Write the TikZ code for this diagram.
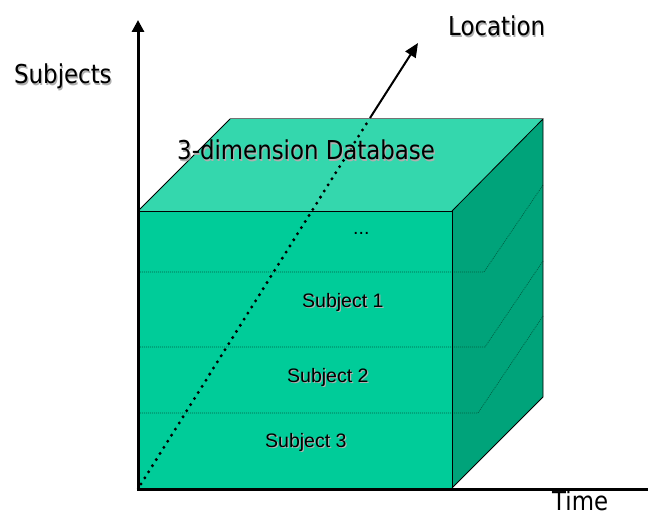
\documentclass[tikz,border=0pt]{standalone}
\usepackage{fontspec}
\usetikzlibrary{arrows.meta}
\setmainfont{Liberation Sans}
\newfontfamily\labelfont[FakeStretch=0.88]{DejaVu Sans}
\definecolor{frontface}{RGB}{0,204,153}
\definecolor{topface}{RGB}{52,215,173}
\definecolor{sideface}{RGB}{0,163,122}
\definecolor{layerline}{RGB}{0,95,68}
\definecolor{textshade}{RGB}{175,175,175}
% text with a soft grey drop shadow
\newcommand\shadowtext[1]{\rlap{\hspace{1.2pt}\raisebox{-1.2pt}{\color{textshade}#1}}#1}
\tikzset{
  axisline/.style={line width=3pt},
  edgeline/.style={line width=0.8pt, black},
  layersep/.style={line width=0.7pt, layerline, dash pattern=on 1pt off 1pt},
  bigtext/.style={anchor=base west, inner sep=0pt, font=\labelfont\fontsize{26}{30}\selectfont},
  layertext/.style={anchor=base west, inner sep=0pt, font=\fontsize{19.5}{23}\selectfont},
}
\begin{document}
\begin{tikzpicture}[x=1pt,y=-1pt]
\useasboundingbox (0,0) rectangle (648,513);
% cube corners
\coordinate (FTL) at (138,211);
\coordinate (FTR) at (452,211);
\coordinate (FBR) at (452,488);
\coordinate (FBL) at (138,488);
\coordinate (BTL) at (230,119);
\coordinate (BTR) at (543,119);
\coordinate (BBR) at (543,397);
% faces
\fill[frontface] (FTL) -- (FTR) -- (FBR) -- (FBL) -- cycle;
\fill[topface] (FTL) -- (BTL) -- (BTR) -- (FTR) -- cycle;
\fill[sideface] (FTR) -- (BTR) -- (BBR) -- (FBR) -- cycle;
% layer separators
\coordinate (L1a) at (138,272); \coordinate (L1b) at (484,272); \coordinate (L1c) at (543,185);
\coordinate (L2a) at (138,347); \coordinate (L2b) at (485,347); \coordinate (L2c) at (543,261);
\coordinate (L3a) at (138,413); \coordinate (L3b) at (478,413); \coordinate (L3c) at (543,316);
\draw[layersep] (L1a) -- (L1b) -- (L1c);
\draw[layersep] (L2a) -- (L2b) -- (L2c);
\draw[layersep] (L3a) -- (L3b) -- (L3c);
% cube edges
\draw[edgeline] (FTL) -- (FTR) -- (FBR);
\draw[edgeline] (FTR) -- (BTR) -- (BBR) -- (FBR);
\draw[edgeline] (FTL) -- (BTL);
\draw[line width=1pt, black!55] (BTL) -- (BTR);
% location axis: dotted inside the cube, solid above it
\coordinate (LocStart) at (141,484);
\coordinate (LocExit) at (370,118);
\coordinate (LocTip) at (418,43);
\draw[line width=3.3pt, line cap=round, dash pattern=on 0pt off 7.2pt] (LocStart) -- (LocExit);
\draw[line width=2pt, -{Triangle[width=12pt,length=14pt]}] (LocExit) -- (LocTip);
% subject and time axes
\coordinate (O) at (138,489);
\coordinate (SubjTip) at (138,20);
\coordinate (TimeEnd) at (648,489);
\draw[axisline, -{Triangle[width=12pt,length=12pt]}] (O) -- (SubjTip);
\draw[axisline] (136.5,489) -- (TimeEnd);
% labels
\node[bigtext] (subjects) at (14,84) {\shadowtext{Subjects}};
\node[bigtext] (location) at (448,36) {\shadowtext{Location}};
\node[bigtext] (time) at (552,510) {Time};
\node[bigtext] (dbname) at (177,160) {\shadowtext{3-dimension Database}};
\node[layertext] (more) at (353,235) {...};
\node[layertext] (subj1) at (302,307) {\shadowtext{Subject 1}};
\node[layertext] (subj2) at (287,382) {\shadowtext{Subject 2}};
\node[layertext] (subj3) at (265,447) {\shadowtext{Subject 3}};
\end{tikzpicture}
\end{document}
